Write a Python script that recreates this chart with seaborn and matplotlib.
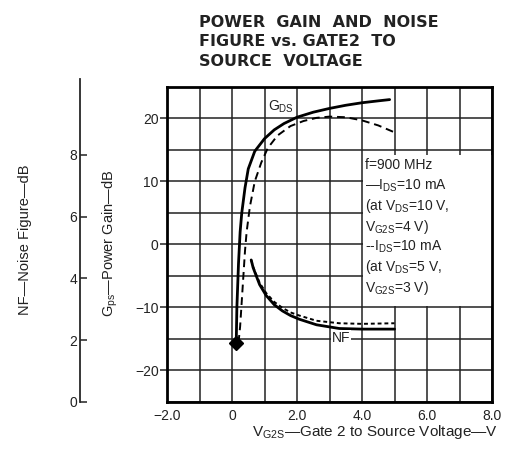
import seaborn as sns
import matplotlib.pyplot as plt
import numpy as np
import pandas as pd
from matplotlib.patches import Rectangle

# Gps curves (dB) vs V_G2S (V)
gps_solid_v = [0.13, 0.15, 0.2, 0.25, 0.3, 0.4, 0.5, 0.7, 1.0, 1.3, 1.6, 2.0, 2.5, 3.0, 3.5, 4.0, 4.5, 4.85]
gps_solid = [-15.6, -10, -3, 2, 5, 9, 12, 14.8, 16.8, 18.2, 19.2, 20.2, 21.0, 21.6, 22.1, 22.5, 22.8, 23.0]
gps_dash_v = [0.2, 0.25, 0.3, 0.35, 0.4, 0.45, 0.55, 0.7, 0.9, 1.1, 1.4, 1.8, 2.2, 2.6, 3.0, 3.5, 4.0, 4.5, 5.0]
gps_dash = [-15.6, -13, -9, -5, -1, 2, 6, 10, 13, 15.3, 17.3, 18.8, 19.6, 20.1, 20.3, 20.2, 19.7, 18.9, 17.8]

# NF curves (dB) vs V_G2S (V)
nf_v = [0.59, 0.65, 0.74, 0.85, 1.05, 1.3, 1.55, 1.8, 2.07, 2.6, 3.3, 4.0, 5.0]
nf_solid = [4.6, 4.35, 4.1, 3.8, 3.45, 3.15, 2.95, 2.8, 2.68, 2.5, 2.38, 2.36, 2.36]
nf_dash = [4.6, 4.38, 4.14, 3.86, 3.53, 3.24, 3.05, 2.9, 2.8, 2.63, 2.55, 2.53, 2.55]

x_ticks = [-2.0, 0, 2.0, 4.0, 6.0, 8.0]
x_labels = ['\u22122.0', '0', '2.0', '4.0', '6.0', '8.0']
gps_ticks = [-20, -10, 0, 10, 20]
gps_labels = ['\u221220', '\u221210', '0', '10', '20']
nf_ticks = [0, 2, 4, 6, 8]

note_lines = ['f=900 MHz',
              '\u2014I$_{DS}$=10 mA',
              '(at V$_{DS}$=10 V,',
              'V$_{G2S}$=4 V)',
              '--I$_{DS}$=10 mA',
              '(at V$_{DS}$=5 V,',
              'V$_{G2S}$=3 V)']

sns.set_style('white')
plt.rcParams['font.family'] = ['Liberation Sans', 'DejaVu Sans']
plt.rcParams['mathtext.fontset'] = 'custom'
plt.rcParams['mathtext.rm'] = 'Liberation Sans'
plt.rcParams['mathtext.it'] = 'Liberation Sans'
plt.rcParams['mathtext.default'] = 'regular'

fig = plt.figure(figsize=(5.05, 4.55), dpi=100)
ax = fig.add_axes([0.3307, 0.1165, 0.6436, 0.6923])

gps = pd.DataFrame({'v': gps_solid_v, 'g': gps_solid})
gps2 = pd.DataFrame({'v': gps_dash_v, 'g': gps_dash})
sns.lineplot(data=gps, x='v', y='g', ax=ax, color='black', lw=2.0, estimator=None, zorder=3)
sns.lineplot(data=gps2, x='v', y='g', ax=ax, color='black', lw=1.4, ls=(0, (4, 2.5)), estimator=None, zorder=3)
ax.plot(gps_solid_v[0], gps_solid[0], marker='D', ms=7, color='black', zorder=4)

ax.set_xlim(-2, 8)
ax.set_ylim(-25, 25)
ax.set_xticks(x_ticks)
ax.set_xticklabels(x_labels)
ax.set_xticks(np.arange(-2, 8.1, 1.0), minor=True)
ax.set_yticks(gps_ticks)
ax.set_yticklabels(gps_labels)
ax.set_yticks(np.arange(-25, 25.1, 5), minor=True)
ax.grid(True, which='both', color='#222222', lw=1.1)
ax.set_axisbelow(True)
ax.tick_params(axis='x', which='both', length=0, labelsize=10, pad=5, colors='#222222')
ax.tick_params(axis='y', which='major', length=5, width=1.1, direction='out', labelsize=10, pad=1, colors='#222222')
ax.tick_params(axis='y', which='minor', length=0)
for s in ax.spines.values():
    s.set_color('black')
    s.set_linewidth(2.0)
ax.set_xlabel('')
ax.set_ylabel('')

# white area behind the condition notes
ax.add_patch(Rectangle((4.04, -9.7), 3.96, 23.9, facecolor='white', edgecolor='none', zorder=1.5))
for i, line in enumerate(note_lines):
    ax.text(4.1, 12.6 - i * 3.25, line, fontsize=10, ha='left', va='center', color='#222222', zorder=5)

ax.text(1.12, 21.8, 'G$_{DS}$', fontsize=10, ha='left', va='center', color='#222222', zorder=5)

# NF axis, offset to the left
ax2 = ax.twinx()
nf = pd.DataFrame({'v': nf_v, 's': nf_solid, 'd': nf_dash})
sns.lineplot(data=nf, x='v', y='s', ax=ax2, color='black', lw=2.0, estimator=None)
sns.lineplot(data=nf, x='v', y='d', ax=ax2, color='black', lw=1.4, ls=(0, (2, 1.5)), estimator=None)
ax2.set_ylim(0, 10.2)
ax2.text(3.35, 2.07, 'NF', fontsize=10, ha='center', va='center', color='#222222',
         bbox=dict(fc='white', ec='none', pad=0.5))
ax2.set_ylabel('')
ax2.yaxis.set_ticks_position('left')
ax2.spines['left'].set_position(('axes', -0.268))
ax2.spines['left'].set_visible(True)
ax2.spines['left'].set_linewidth(1.3)
ax2.spines['left'].set_bounds(0, 10.45)
ax2.spines['right'].set_visible(False)
ax2.spines['top'].set_visible(False)
ax2.spines['bottom'].set_visible(False)
ax2.set_yticks(nf_ticks)
ax2.tick_params(axis='y', length=5, width=1.1, direction='in', labelsize=10, pad=2, colors='#222222')
ax2.grid(False)

fig.text(0.394, 0.968, 'POWER  GAIN  AND  NOISE\nFIGURE vs. GATE2  TO\nSOURCE  VOLTAGE',
         fontsize=11.5, fontweight='bold', ha='left', va='top', linespacing=1.38, color='#222222',
         family='DejaVu Sans')
fig.text(0.742, 0.05, 'V$_{G2S}$\u2014Gate 2 to Source Voltage\u2014V', fontsize=11,
         ha='center', va='center', color='#222222')
fig.text(0.218, 0.465, 'G$_{ps}$\u2014Power Gain\u2014dB', fontsize=10.5, rotation=90,
         ha='center', va='center', color='#222222')
fig.text(0.05, 0.472, 'NF\u2014Noise Figure\u2014dB', fontsize=10.5, rotation=90,
         ha='center', va='center', color='#222222')

plt.savefig('out.png', dpi=100)
